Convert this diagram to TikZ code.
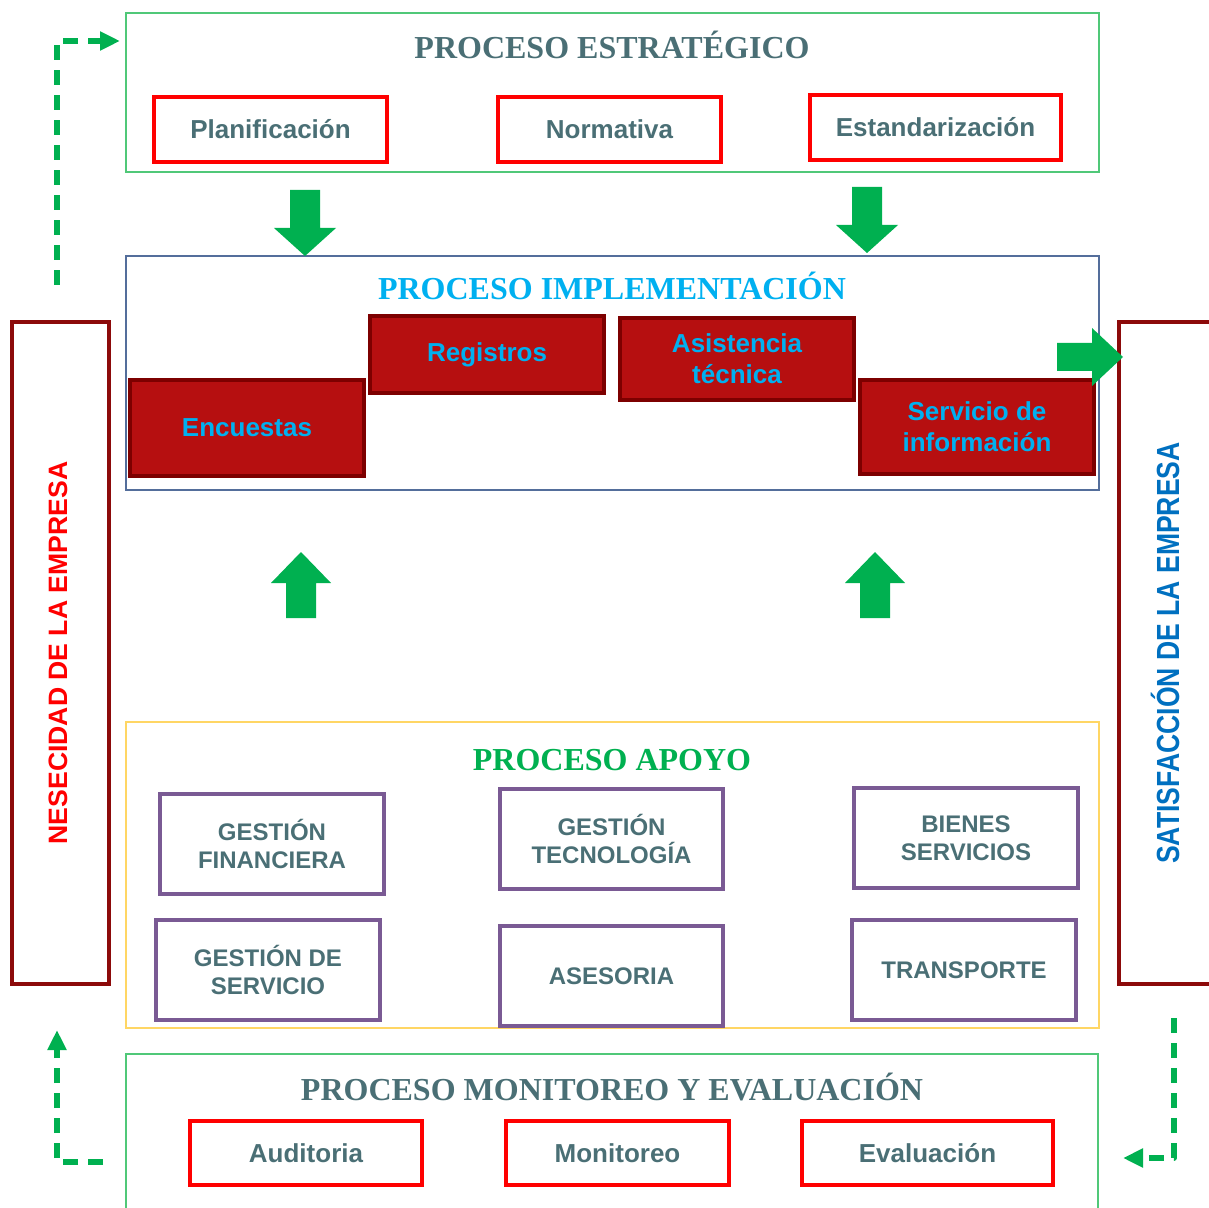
\documentclass[tikz,border=0pt]{standalone}
\usepackage{fontspec}
\setmainfont{Liberation Serif}
\setsansfont{Liberation Sans}
\usetikzlibrary{arrows.meta}

\definecolor{slate}{RGB}{74,111,117}
\definecolor{framegreen}{RGB}{80,200,120}
\definecolor{frameblue}{RGB}{84,110,155}
\definecolor{frameyellow}{RGB}{255,214,100}
\definecolor{arrowgreen}{RGB}{0,176,80}
\definecolor{boxred}{RGB}{255,0,0}
\definecolor{darkfill}{RGB}{182,15,16}
\definecolor{darkline}{RGB}{125,0,0}
\definecolor{cyantext}{RGB}{0,176,240}
\definecolor{purpleline}{RGB}{122,90,148}
\definecolor{tallline}{RGB}{140,10,10}
\definecolor{bluetext}{RGB}{0,112,192}
\definecolor{apoyogreen}{RGB}{0,176,80}

\tikzset{
  sz/.style 2 args={minimum width=#1*0.5pt,minimum height=#2*0.5pt},
  frame/.style={draw=#1,line width=0.6pt,inner sep=0pt},
  title/.style={text=#1,font=\fontsize{16}{19}\selectfont\bfseries},
  redbox/.style={draw=boxred,line width=1.7pt,inner sep=0pt,text=slate,
    font=\sffamily\bfseries\fontsize{13}{15.5}\selectfont},
  darkbox/.style={draw=darkline,fill=darkfill,line width=1.7pt,inner sep=0pt,
    text=cyantext,align=center,font=\sffamily\bfseries\fontsize{13}{15.5}\selectfont},
  purplebox/.style={draw=purpleline,line width=1.7pt,inner sep=0pt,text=slate,
    align=center,font=\sffamily\bfseries\fontsize{12}{14}\selectfont},
  tallbox/.style={draw=tallline,line width=1.7pt,inner sep=0pt},
  sidetext/.style={rotate=90,font=\sffamily\bfseries\fontsize{13.3}{16}\selectfont},
  dasharrow/.style={draw=arrowgreen,line width=2.6pt,dash pattern=on 7.5pt off 5pt,
    line join=round,-{Triangle[length=10pt,width=9pt]}},
  downarr/.pic={\fill[arrowgreen] (-15,0) -- (15,0) -- (15,38) -- (31,38) -- (0,66)
    -- (-31,38) -- (-15,38) -- cycle;},
  uparr/.pic={\fill[arrowgreen] (0,0) -- (30,31) -- (15,31) -- (15,66) -- (-15,66)
    -- (-15,31) -- (-30,31) -- cycle;}
}

\begin{document}
\begin{tikzpicture}[x=0.5pt,y=-0.5pt]
  \useasboundingbox (0,0) rectangle (1209,1208);

  % frames
  \node[frame=framegreen,sz={973}{159}] (estr) at (612.5,92.5) {};
  \node[frame=frameblue,sz={973}{234}] (impl) at (612.5,373) {};
  \node[frame=frameyellow,sz={973}{306}] (apoyo) at (612.5,875) {};
  \node[frame=framegreen,sz={972}{170}] (moni) at (612,1139) {};

  % titles
  \node[title=slate] (testr) at (612,45) {PROCESO ESTRATÉGICO};
  \node[title=cyantext] (timpl) at (612,286) {PROCESO IMPLEMENTACIÓN};
  \node[title=apoyogreen] (tapoyo) at (612,760) {PROCESO APOYO};
  \node[title=slate] (tmoni) at (612,1087) {PROCESO MONITOREO Y EVALUACIÓN};

  % proceso estrategico
  \node[redbox,sz={233}{65}] (plan) at (270.5,129.5) {Planificación};
  \node[redbox,sz={223}{65}] (norm) at (609.5,129.5) {Normativa};
  \node[redbox,sz={251}{65}] (estand) at (935.5,127.5) {Estandarización};

  % proceso implementacion
  \node[darkbox,sz={234}{96}] (encu) at (247,428) {Encuestas};
  \node[darkbox,sz={234}{77}] (regi) at (487,354.5) {Registros};
  \node[darkbox,sz={234}{82}] (asis) at (737,359) {Asistencia\\técnica};
  \node[darkbox,sz={234}{94}] (serv) at (977,427) {Servicio de\\información};

  % proceso apoyo
  \node[purplebox,sz={224}{100}] (gfin) at (272,844) {GESTIÓN\\FINANCIERA};
  \node[purplebox,sz={223}{100}] (gtec) at (611.5,839) {GESTIÓN\\TECNOLOGÍA};
  \node[purplebox,sz={224}{100}] (bien) at (966,838) {BIENES\\SERVICIOS};
  \node[purplebox,sz={224}{100}] (gser) at (268,970) {GESTIÓN DE\\SERVICIO};
  \node[purplebox,sz={223}{100}] (ases) at (611.5,976) {ASESORIA};
  \node[purplebox,sz={224}{100}] (trans) at (964,970) {TRANSPORTE};

  % proceso monitoreo
  \node[redbox,sz={232}{64}] (audi) at (306,1153) {Auditoria};
  \node[redbox,sz={223}{64}] (moni2) at (617.5,1153) {Monitoreo};
  \node[redbox,sz={251}{64}] (eval) at (927.5,1153) {Evaluación};

  % empresa
  \node[tallbox,sz={97}{662}] (nece) at (60.5,653) {};
  \node[sidetext,text=boxred] (tnece) at (58,653) {NESECIDAD DE LA EMPRESA};
  \node[tallbox,sz={100}{662}] (sati) at (1169,653) {};
  \node[sidetext,text=bluetext,font=\sffamily\bfseries\fontsize{16}{19}\selectfont] (tsati) at (1165,653)
    {\scalebox{0.83}[1]{SATISFACCIÓN DE LA EMPRESA}};

  % flechas de bloque
  \pic at (305,190) {downarr};
  \pic at (867,187) {downarr};
  \pic at (301,552) {uparr};
  \pic at (875,552) {uparr};
  \fill[arrowgreen] (1057,343) -- (1092,343) -- (1092,328) -- (1123,357) -- (1092,386)
    -- (1092,371) -- (1057,371) -- cycle;

  % flechas punteadas
  \coordinate (a1) at (57,285);
  \coordinate (a2) at (120,41);
  \coordinate (b1) at (103,1162);
  \coordinate (b2) at (57,1030);
  \coordinate (c1) at (1174,1018);
  \coordinate (c2) at (1123,1158);
  \draw[dasharrow] (a1) |- (a2);
  \draw[dasharrow] (b1) -| (b2);
  \draw[dasharrow] (c1) |- (c2);
\end{tikzpicture}
\end{document}
